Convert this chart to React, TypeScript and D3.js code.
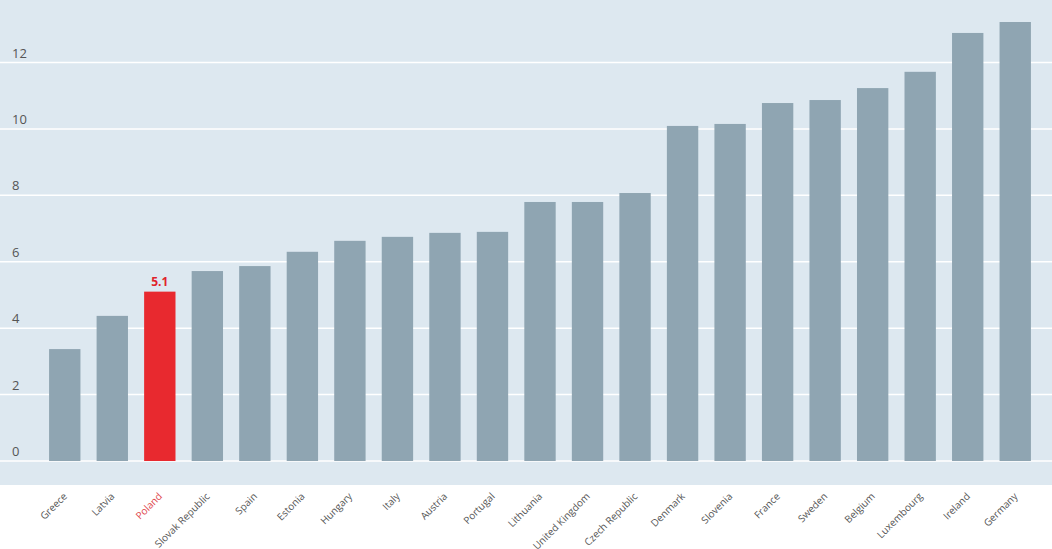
import React from "react";
import * as d3 from "d3";

const countries = ["Greece","Latvia","Poland","Slovak Republic","Spain","Estonia","Hungary","Italy","Austria","Portugal","Lithuania","United Kingdom","Czech Republic","Denmark","Slovenia","France","Sweden","Belgium","Luxembourg","Ireland","Germany"];
const values = [3.37,4.37,5.1,5.72,5.87,6.3,6.63,6.75,6.87,6.9,7.8,7.8,8.07,10.09,10.15,10.78,10.87,11.23,11.72,12.89,13.22];
const yTicks = [0,2,4,6,8,10,12];
const highlight = "Poland";

const W = 1052, H = 549;

export default function App() {
  const x = d3.scaleBand<string>().domain(countries).range([41, 1039]).paddingInner(0.34).paddingOuter(0.17);
  const y = d3.scaleLinear().domain([0, 13.22]).range([461, 22]);
  const font = "'Open Sans', 'Segoe UI', sans-serif";
  return (
    <svg width={W} height={H} style={{ position: "absolute", left: 0, top: 0 }} fontFamily={font}>
      <rect x={0} y={0} width={W} height={485} fill="#dde8f0" />
      {yTicks.map(t => (
        <g key={t}>
          <line x1={0} x2={W} y1={y(t)} y2={y(t)} stroke="#ffffff" strokeWidth={1.5} />
          <text x={12} y={y(t) - 5} fontSize={13} fill="#555">{t}</text>
        </g>
      ))}
      {countries.map((c, i) => {
        const bx = x(c)!;
        const bw = x.bandwidth();
        const isH = c === highlight;
        return (
          <g key={c}>
            <rect x={bx} y={y(values[i])} width={bw} height={y(0) - y(values[i])} fill={isH ? "#e8292f" : "#8fa5b2"} />
            {isH && (
              <text x={bx + bw / 2} y={y(values[i]) - 6} textAnchor="middle" fontSize={12} fontWeight="bold" fill="#e0232b">{values[i].toFixed(1)}</text>
            )}
            <text
              transform={`translate(${bx + bw / 2 + 3},${497}) rotate(-45)`}
              textAnchor="end"
              fontSize={10}
              fill={isH ? "#e0464c" : "#555"}
            >{c}</text>
          </g>
        );
      })}
    </svg>
  );
}
